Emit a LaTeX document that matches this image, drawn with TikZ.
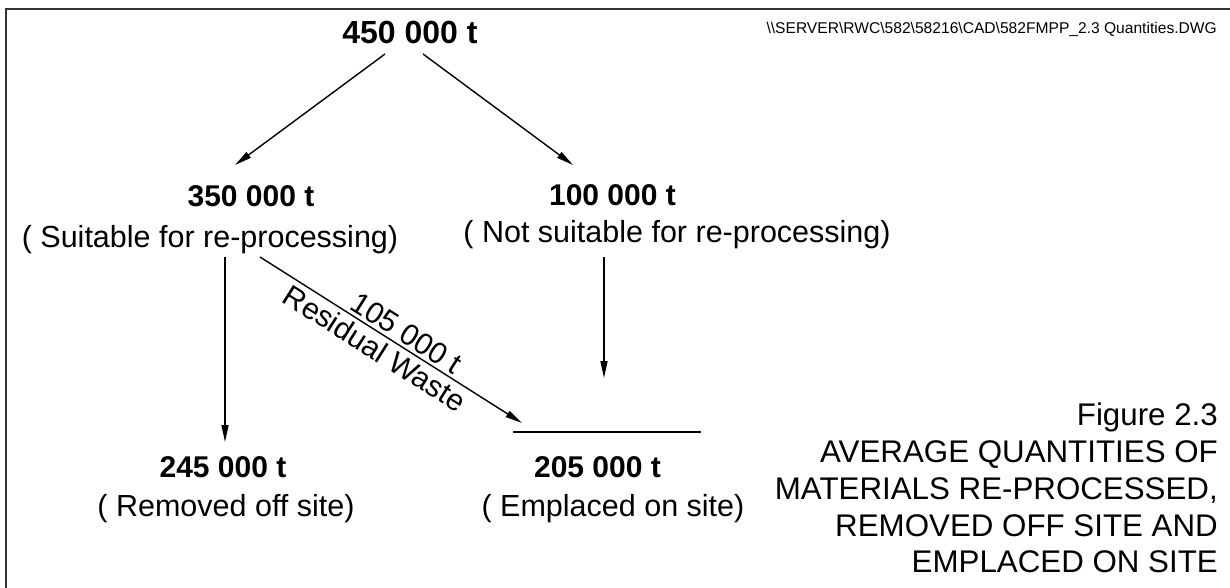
\documentclass[tikz,border=0pt]{standalone}
\usepackage{fontspec}
\setmainfont{Liberation Sans}
\usetikzlibrary{arrows.meta}
\begin{document}
\begin{tikzpicture}[x=1pt,y=-1pt,
  qty/.style={font=\fontsize{30}{36}\selectfont\bfseries, anchor=base, inner sep=0pt},
  bigqty/.style={font=\fontsize{32}{38}\selectfont\bfseries, anchor=base, inner sep=0pt},
  desc/.style={font=\fontsize{30.5}{36}\selectfont, anchor=base, inner sep=0pt},
  captext/.style={font=\fontsize{31.3}{36}\selectfont, anchor=base east, inner sep=0pt},
  flow/.style={line width=1.4pt, -{Triangle[length=17pt,width=7pt]}},
  frameline/.style={line width=2pt, draw=black!80},
  flowlabel/.style={font=\fontsize{30}{36}\selectfont, sloped}
]
\useasboundingbox (0,0) rectangle (1230,587);
% frame
\draw[frameline] (6,600) -- (6,9) -- (1240,9);
% file path
\node[font=\fontsize{15.6}{18}\selectfont, anchor=base east, inner sep=0pt] (path) at (1217,33)
  {\textbackslash\textbackslash SERVER\textbackslash RWC\textbackslash 582\textbackslash 58216\textbackslash CAD\textbackslash 582FMPP\_2.3 Quantities.DWG};
% nodes
\node[bigqty] (top) at (410,43) {450 000 t};
\node[qty] (suit) at (251,206) {350 000 t};
\node[desc] (suitd) at (210,247) {( Suitable for re-processing)};
\node[qty] (nots) at (612.5,205) {100 000 t};
\node[desc] (notsd) at (677,242) {( Not suitable for re-processing)};
\node[qty] (rem) at (223,477) {245 000 t};
\node[desc] (remd) at (226,516) {( Removed off site)};
\node[qty] (emp) at (597.5,477) {205 000 t};
\node[desc] (empd) at (613,516) {( Emplaced on site)};
% caption
\node[captext] (c1) at (1218,425) {Figure 2.3};
\node[captext] (c2) at (1218,462) {AVERAGE QUANTITIES OF};
\node[captext] (c3) at (1218,499) {MATERIALS RE-PROCESSED,};
\node[captext] (c4) at (1218,536) {REMOVED OFF SITE AND};
\node[captext] (c5) at (1218,572) {EMPLACED ON SITE};
% connector end points
\coordinate (tl) at (385,54);
\coordinate (tr) at (423,54);
\coordinate (sl) at (235,165);
\coordinate (sr) at (573,165);
\coordinate (vs) at (225,257);
\coordinate (ve) at (225,442);
\coordinate (ds) at (260,257);
\coordinate (de) at (522,423);
\coordinate (ns) at (604,257);
\coordinate (ne) at (604,378);
\coordinate (hl) at (513,432);
\coordinate (hr) at (701,432);
% connectors
\draw[flow] (tl) -- (sl);
\draw[flow] (tr) -- (sr);
\draw[flow] (vs) -- (ve);
\draw[flow] (ns) -- (ne);
\draw[flow] (ds) -- node[flowlabel, pos=0.53, above, inner sep=3pt] (lab1) {105 000 t}
  node[flowlabel, pos=0.47, below, inner sep=4pt] (lab2) {Residual Waste} (de);
\draw[line width=1.4pt] (hl) -- (hr);
\end{tikzpicture}
\end{document}
